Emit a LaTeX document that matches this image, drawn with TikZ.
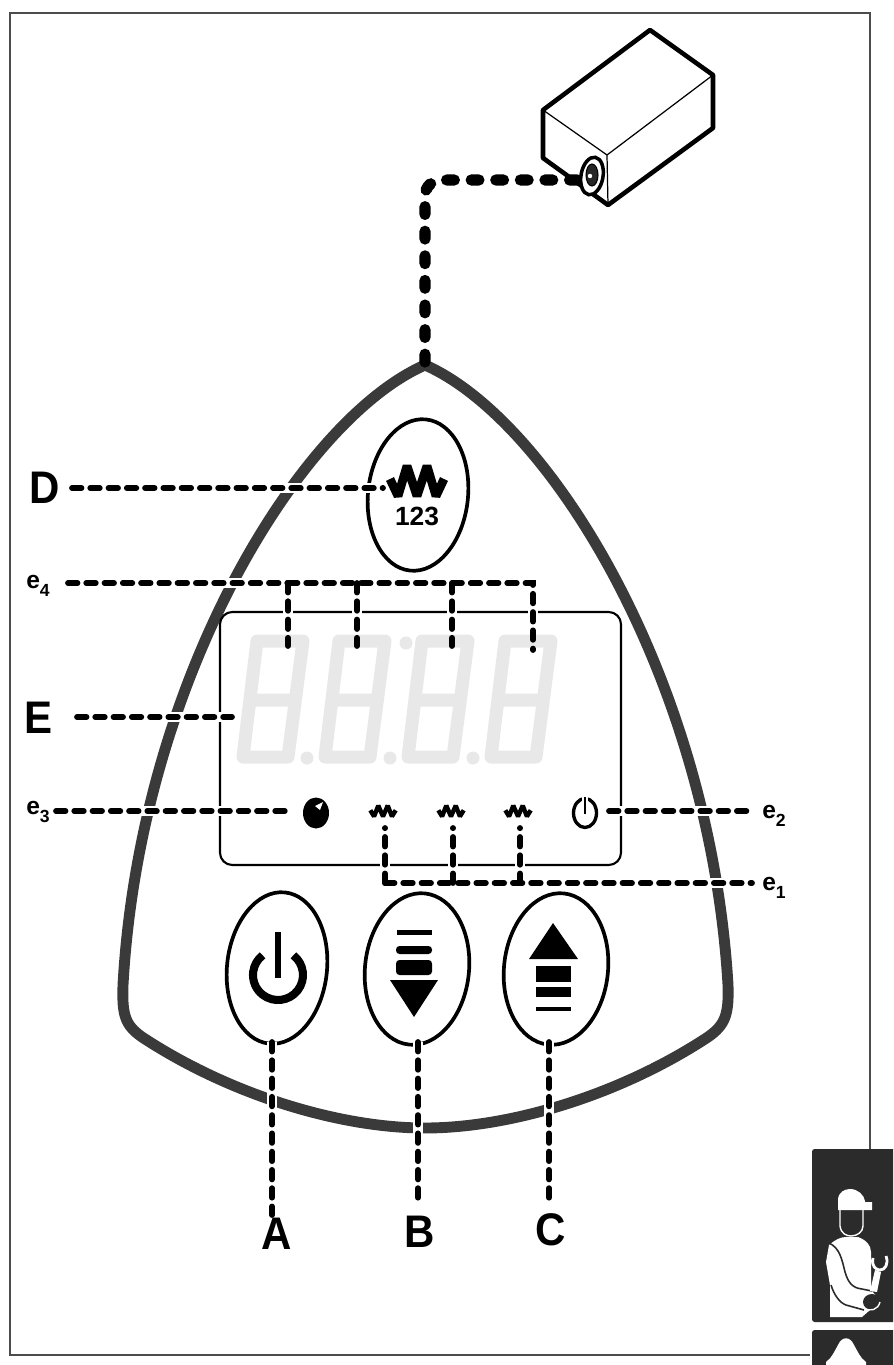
\documentclass[tikz,border=0pt]{standalone}
\usepackage{fontspec}
\setmainfont{Liberation Sans}
\usetikzlibrary{shapes.geometric}
\definecolor{panelgray}{HTML}{3A3A3A}
\definecolor{seg}{HTML}{E8E8E8}
\definecolor{badge}{HTML}{2B2B2B}
\tikzset{
  wire/.style={line width=3.3pt,line cap=round,dash pattern=on 5.4pt off 5pt},
  cable/.style={line width=6.4pt,line cap=round,dash pattern=on 4.4pt off 9.6pt,rounded corners=9pt},
  halo/.style={line width=5.8pt,draw=white},
  btn/.style={draw,ellipse,line width=2.1pt,minimum width=100*0.02cm,minimum height=152*0.02cm,inner sep=0pt,rotate=-6},
  lbl/.style={font=\fontsize{26}{26}\selectfont\bfseries,inner sep=0pt,xscale=.92},
  lblsmall/.style={font=\fontsize{14}{14}\selectfont\bfseries,inner sep=0pt},
  boxedge/.style={line width=2.6pt,line join=round},
  boxthin/.style={line width=0.7pt},
  digit/.style={draw=seg,line width=7.4pt,line join=round},
  zig/.style={line join=miter,miter limit=2}
}
\newcommand{\elabel}[1]{e\raisebox{-.3em}{\fontsize{10}{10}\selectfont #1}}
\newcommand{\eightdigit}[1]{%
  \draw[digit,shift={(#1,0)}] (257,641) -- (303,641) -- (288,757) -- (243,757) -- cycle (250,700) -- (296,700);
}
\newcommand{\heatersym}[5]{%
  \draw[zig,line width=#5,shift={(#1,#2)},xscale=#3,yscale=#4]
    (-27,-2) -- (-19,15) -- (-10,-15) -- (0,15) -- (10,-15) -- (19,15) -- (27,-2);
}
\newcommand{\allwires}[1]{%
  \draw[#1] (eD) -- (dD);
  \draw[#1] (e4s) -- (e4a);
  \draw[#1] (e4a) -- (e4ae);
  \draw[#1] (e4b) -- (e4be);
  \draw[#1] (e4c) -- (e4ce);
  \draw[#1] (e4a) -- (e4d) -- (e4de);
  \draw[#1] (eE) -- (dE);
  \draw[#1] (e3s) -- (e3e);
  \draw[#1] (e2s) -- (e2e);
  \draw[#1] (e1c) -- (e1ce);
  \draw[#1] (e1b) -- (e1be);
  \draw[#1] (e1a) -- (e1ae);
  \draw[#1] (e1c) -- (e1e);
  \draw[#1] (bA) -- (eA);
  \draw[#1] (bB) -- (eB);
  \draw[#1] (bC) -- (eC);
}
\begin{document}
\begin{tikzpicture}[x=0.02cm,y=-0.02cm]
\useasboundingbox (0,0) rectangle (893,1365);
\clip (0,0) rectangle (893,1365);
% frame
\draw[line width=1pt,color=black!70] (810,1355) -- (10,1355) -- (10,13) -- (870,13) -- (870,1150);
% box
\coordinate (t1) at (650,30); \coordinate (t2) at (713,75); \coordinate (t3) at (713,128);
\coordinate (t4) at (608,205); \coordinate (t5) at (543,158); \coordinate (t6) at (543,110); \coordinate (t7) at (607,155);
\draw[boxedge] (t6) -- (t1) -- (t2) -- (t3) -- (t4) -- (t5) -- cycle;
\draw[boxthin] (t6) -- (t7) -- (t2) (t7) -- (t4);
% panel
\draw[line width=6.2pt,color=panelgray,line join=round]
  (425,365) .. controls (300,420) and (140,680) .. (123,985)
  .. controls (122,1015) and (125,1025) .. (142,1037)
  .. controls (230,1095) and (340,1128) .. (425,1128)
  .. controls (510,1128) and (620,1095) .. (708,1037)
  .. controls (725,1025) and (729,1015) .. (728,985)
  .. controls (710,680) and (550,420) .. (425,365) -- cycle;
% display
\node[draw,line width=1.2pt,rounded corners=7pt,minimum width=401*0.02cm,minimum height=253*0.02cm,inner sep=0pt] (disp) at (420.5,738.5) {};
% buttons
\node[btn] (btnD) at (418,495) {};
\node[btn] (btnA) at (277,968) {};
\node[btn,minimum width=104*0.02cm] (btnB) at (417,969) {};
\node[btn,minimum width=104*0.02cm] (btnC) at (556,969) {};
% connector coordinates
\coordinate (eD) at (72,488); \coordinate (dD) at (383,488);
\coordinate (e4s) at (68,583); \coordinate (e4a) at (288,583); \coordinate (e4ae) at (288,646);
\coordinate (e4b) at (357,583); \coordinate (e4be) at (357,646);
\coordinate (e4c) at (452,583); \coordinate (e4ce) at (452,646);
\coordinate (e4d) at (533,583); \coordinate (e4de) at (533,650);
\coordinate (eE) at (77,717); \coordinate (dE) at (232,717);
\coordinate (e3s) at (56,811); \coordinate (e3e) at (289,811);
\coordinate (e2s) at (609,811); \coordinate (e2e) at (752,811);
\coordinate (e1c) at (385,883); \coordinate (e1ce) at (385,828);
\coordinate (e1b) at (453,883); \coordinate (e1be) at (453,828);
\coordinate (e1a) at (520,883); \coordinate (e1ae) at (520,828);
\coordinate (e1e) at (752,883);
\coordinate (bA) at (272,1042); \coordinate (eA) at (272,1215);
\coordinate (bB) at (418,1042); \coordinate (eB) at (418,1205);
\coordinate (bC) at (549,1042); \coordinate (eC) at (549,1205);
\coordinate (cbA) at (425,362); \coordinate (cbB) at (425,180); \coordinate (cbC) at (578,180);
\allwires{halo}
% digits
\eightdigit{0}\eightdigit{82}\eightdigit{165}\eightdigit{248}
\foreach \p/\q in {307/758,390/758,473/758,406/643}
  \fill[seg] (\p,\q) circle (6.5);
% dashed connectors
\allwires{wire}
\draw[cable] (cbA) -- (cbB) -- (cbC);
% box port
\node[draw,fill=white,ellipse,line width=2pt,minimum width=22*0.02cm,minimum height=38*0.02cm,inner sep=0pt,rotate=-10] (port) at (592,176) {};
\node[draw,fill=black!85,ellipse,line width=.6pt,minimum width=12*0.02cm,minimum height=22*0.02cm,inner sep=0pt] (port2) at (592,175) {};
\fill[white] (590,176) circle (2.2);
% icon D
\heatersym{417}{481}{1}{1}{5pt}
\node[inner sep=0pt,font=\fontsize{15}{15}\selectfont\bfseries] (num) at (417,516) {123};
% display icons
\heatersym{383}{811}{.47}{.36}{2.5pt}
\heatersym{451}{811}{.47}{.36}{2.5pt}
\heatersym{518}{811}{.47}{.36}{2.5pt}
\fill (316,813) ellipse (13 and 15.5);
\fill[white] (315,806) -- (323,802) -- (320,810) -- cycle;
\node[draw,ellipse,line width=1.9pt,minimum width=23*0.02cm,minimum height=29*0.02cm,inner sep=0pt] (pw) at (585,813) {};
\draw[white,line width=3pt] (585,795) -- (585,805);
\draw[line width=1.5pt] (585,797) -- (585,814);
% power button
\draw[line width=4.6pt] (278,975) ++(-52:25) arc[start angle=-52,end angle=232,radius=25];
\draw[line width=3.8pt] (278,932) -- (278,978);
% down button
\fill (397,930) rectangle (432,935);
\fill[rounded corners=2pt] (396,946) rectangle (432,954);
\fill[rounded corners=2pt] (396,960) rectangle (432,975);
\fill (390,980) -- (438,980) -- (414,1017) -- cycle;
% up button
\fill (553,923) -- (578,959) -- (529,959) -- cycle;
\fill (536,966) rectangle (571,982);
\fill (536,987) rectangle (571,997);
\fill (536,1007) rectangle (571,1011);
% labels
\node[lbl] (lD) at (45,488) {D};
\node[lbl] (lE) at (39,718) {E};
\node[lbl] (lA) at (277,1234) {A};
\node[lbl] (lB) at (420,1232) {B};
\node[lbl] (lC) at (551,1230) {C};
\node[lblsmall] (l4) at (38,586) {\elabel{4}};
\node[lblsmall] (l3) at (38,812) {\elabel{3}};
\node[lblsmall] (l2) at (774,816) {\elabel{2}};
\node[lblsmall] (l1) at (774,888) {\elabel{1}};
% badges
\fill[badge,rounded corners=1.5pt] (812,1149) rectangle (900,1322);
\fill[badge,rounded corners=1.5pt] (812,1330) rectangle (900,1380);
\fill[white] (826,1375) -- (826,1362) .. controls (832,1358) and (835,1350) .. (838,1345)
  .. controls (842,1336) and (850,1336) .. (854,1345) .. controls (857,1350) and (860,1358) .. (866,1362) -- (866,1375) -- cycle;
% worker
\fill[white] (838,1210) -- (838,1200) .. controls (838,1192) and (845,1189) .. (850,1189)
  .. controls (858,1189) and (864,1195) .. (865,1201) -- (865,1202) -- (872,1202) -- (872,1210) -- cycle;
\draw[white,line width=.8pt] (840,1210) -- (840,1226) .. controls (841,1234) and (847,1236) .. (851,1236)
  .. controls (857,1236) and (863,1232) .. (863,1226) -- (863,1210);
\fill[white] (829,1245) .. controls (835,1240) and (840,1237) .. (846,1237) -- (858,1237)
  .. controls (866,1240) and (871,1245) .. (871,1252) -- (871,1290) -- (880,1300) -- (870,1310) -- (862,1317) -- (830,1317) -- (830,1285) -- (826,1262) -- cycle;
\draw[badge,line width=.9pt] (829,1243) .. controls (840,1248) and (842,1260) .. (845,1272)
  .. controls (848,1282) and (852,1288) .. (862,1289) -- (872,1291);
\draw[badge,line width=.9pt] (831,1285) .. controls (834,1295) and (840,1303) .. (846,1305) -- (864,1310);
\fill[badge] (872,1302) ellipse (9 and 8);
\draw[white,line width=.8pt] (864,1308) .. controls (870,1312) and (878,1310) .. (880,1302);
\fill[white] (870,1291) -- (875,1270) -- (881,1272) -- (877,1292) -- cycle;
\draw[white,line width=1.6pt] (873,1258) .. controls (871,1266) and (876,1270) .. (880,1270)
  .. controls (885,1270) and (889,1264) .. (886,1256);
\end{tikzpicture}
\end{document}
